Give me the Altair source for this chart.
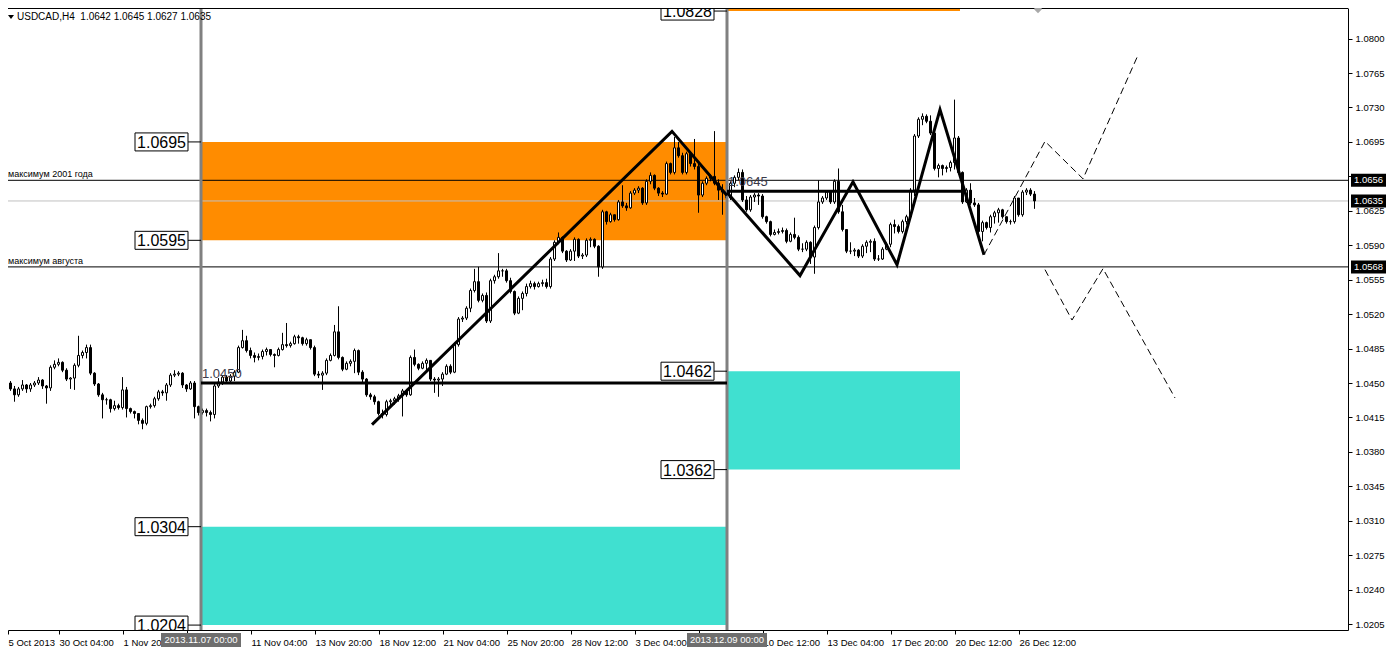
import altair as alt
import pandas as pd

# ---------------- data (prices as offsets: value v -> 1 + v/10000) ----------------
FIRST_OPEN = 443
CLOSES = [
    453, 450, 444, 438, 444, 448, 444, 448, 450, 453,
    447, 445, 466, 469, 471, 463, 454, 455, 468, 478,
    481, 486, 460, 449, 438, 433, 433, 424, 427, 425,
    443, 424, 421, 419, 412, 409, 426, 427, 434, 441,
    440, 448, 458, 459, 460, 448, 444, 450, 426, 420,
    422, 420, 418, 447, 451, 456, 452, 457, 461, 486,
    493, 483, 478, 476, 477, 482, 484, 479, 478, 484,
    489, 488, 490, 497, 496, 490, 494, 486, 459, 458,
    460, 473, 478, 502, 476, 464, 470, 472, 483, 461,
    454, 438, 436, 431, 419, 418, 431, 432, 434, 437,
    442, 438, 476, 469, 465, 470, 473, 454, 453, 454,
    459, 467, 461, 489, 515, 516, 526, 544, 553, 534,
    539, 513, 554, 558, 564, 564, 554, 543, 521, 536,
    541, 548, 551, 548, 551, 552, 548, 576, 593, 598,
    584, 575, 584, 596, 579, 580, 595, 596, 589, 568,
    624, 614, 621, 616, 634, 630, 628, 643, 646, 648,
    633, 655, 661, 648, 643, 642, 673, 664, 689, 681,
    664, 683, 673, 670, 641, 653, 658, 660, 653, 646,
    644, 638, 653, 659, 664, 636, 626, 639, 641, 640,
    619, 614, 601, 603, 604, 605, 594, 601, 598, 586,
    586, 593, 578, 608, 634, 638, 644, 634, 655, 624,
    606, 584, 584, 585, 579, 589, 593, 594, 576, 576,
    586, 591, 611, 609, 604, 614, 619, 646, 701, 718,
    721, 716, 704, 668, 671, 668, 669, 674, 699, 664,
    634, 646, 633, 631, 604, 613, 608, 619, 623, 626,
    619, 614, 614, 638, 621, 644, 646, 642, 635,
]
HIGHS = [
    461, 454, 452, 447, 446, 453, 449, 450, 452, 456,
    454, 448, 468, 473, 475, 472, 465, 456, 470, 498,
    483, 489, 489, 461, 450, 440, 435, 434, 432, 429,
    456, 446, 425, 422, 419, 414, 427, 429, 436, 443,
    443, 450, 460, 463, 462, 461, 449, 452, 452, 427,
    424, 424, 422, 449, 455, 458, 458, 459, 463, 488,
    504, 498, 486, 481, 480, 484, 486, 483, 480, 486,
    501, 511, 492, 499, 499, 497, 496, 494, 488, 462,
    462, 475, 480, 509, 528, 477, 472, 474, 485, 484,
    463, 455, 440, 438, 432, 423, 433, 434, 436, 439,
    444, 444, 478, 484, 470, 472, 475, 464, 456, 456,
    461, 469, 469, 491, 517, 518, 528, 546, 566, 568,
    541, 542, 556, 560, 582, 566, 566, 557, 544, 538,
    543, 551, 554, 553, 553, 555, 556, 578, 595, 603,
    599, 585, 586, 598, 597, 582, 597, 598, 597, 590,
    626, 625, 623, 621, 636, 651, 633, 645, 648, 650,
    649, 657, 664, 662, 649, 645, 675, 674, 700, 695,
    684, 685, 685, 698, 675, 655, 660, 662, 706, 657,
    652, 650, 655, 661, 668, 667, 640, 641, 643, 643,
    642, 620, 615, 606, 607, 608, 607, 603, 618, 600,
    592, 595, 594, 610, 656, 640, 646, 645, 657, 668,
    631, 606, 593, 587, 586, 591, 595, 596, 597, 580,
    588, 593, 613, 616, 611, 616, 621, 648, 703, 720,
    724, 723, 722, 706, 673, 672, 671, 676, 738, 701,
    665, 648, 653, 638, 633, 615, 614, 621, 625, 628,
    627, 617, 616, 640, 638, 646, 648, 648, 645,
]
LOWS = [
    441, 447, 442, 431, 436, 442, 440, 441, 446, 448,
    444, 429, 442, 464, 467, 461, 452, 444, 443, 466,
    475, 475, 458, 447, 436, 414, 428, 420, 422, 423,
    423, 415, 419, 414, 408, 403, 407, 424, 425, 432,
    437, 432, 446, 456, 457, 445, 441, 443, 414, 417,
    418, 416, 411, 414, 445, 448, 450, 450, 452, 460,
    485, 481, 475, 471, 473, 474, 478, 477, 466, 477,
    483, 486, 486, 489, 490, 488, 488, 484, 457, 455,
    443, 458, 472, 477, 474, 462, 463, 467, 460, 458,
    451, 436, 433, 428, 417, 414, 416, 427, 428, 431,
    416, 436, 437, 467, 463, 464, 461, 452, 440, 436,
    447, 458, 459, 460, 487, 512, 514, 522, 542, 532,
    532, 511, 511, 551, 556, 558, 552, 541, 519, 520,
    524, 538, 546, 545, 547, 548, 546, 546, 574, 591,
    582, 573, 574, 574, 577, 576, 578, 588, 587, 558,
    566, 611, 613, 614, 615, 628, 625, 627, 641, 643,
    631, 631, 652, 646, 640, 639, 641, 662, 662, 679,
    662, 662, 670, 667, 623, 639, 651, 655, 651, 636,
    621, 636, 636, 649, 656, 634, 624, 624, 634, 631,
    617, 612, 599, 600, 601, 602, 592, 593, 596, 584,
    583, 584, 571, 561, 606, 632, 636, 632, 632, 622,
    604, 582, 581, 579, 577, 577, 582, 583, 574, 574,
    575, 585, 588, 602, 602, 602, 611, 616, 640, 699,
    712, 714, 702, 666, 659, 661, 664, 665, 667, 662,
    632, 633, 631, 629, 602, 594, 606, 603, 612, 613,
    617, 612, 611, 612, 619, 619, 641, 640, 627,
]

# x axis (bar index) tick labels
TICK_BARS = [1.25, 14, 30, 46, 62, 78, 94, 110, 126, 142, 158, 174, 190, 206, 222, 238, 254]
TICK_LABELS = ["5 Oct 2013", "30 Oct 04:00", "1 Nov 20:00", "6 Nov 12:00", "11 Nov 04:00",
               "13 Nov 20:00", "18 Nov 12:00", "21 Nov 04:00", "25 Nov 20:00", "28 Nov 12:00",
               "3 Dec 04:00", "5 Dec 20:00", "10 Dec 12:00", "13 Dec 04:00", "17 Dec 20:00",
               "20 Dec 12:00", "26 Dec 12:00"]
Y_TICKS = [round(1.0205 + 0.0035 * k, 4) for k in range(18)]

# vertical separators (bar index) and their highlighted dates
VLINE_BARS = [49.5, 181]
VLINE_LABELS = ["2013.11.07 00:00", "2013.12.09 00:00"]

# zones: start bar, end bar, low price, high price, colour
ZONE_X0 = [49.5, 49.5, 181, 181]
ZONE_X1 = [181, 181, 239.25, 239.25]
ZONE_LO = [1.0595, 1.0204, 1.0828, 1.0362]
ZONE_HI = [1.0695, 1.0304, 1.0840, 1.0462]
ZONE_COL = ["#FF8C00", "#40E0D0", "#FF8C00", "#40E0D0"]

# boxed price labels on the separators
BOX_BAR = [49.5, 49.5, 49.5, 49.5, 181, 181, 181]
BOX_PRICE = [1.0695, 1.0595, 1.0304, 1.0204, 1.0828, 1.0462, 1.0362]

# full-width horizontal levels
LEVEL_PRICE = [1.0656, 1.0568]
LEVEL_TEXT = ["максимум 2001 года", "максимум августа"]
BID = 1.0635
RIGHT_MARKS = [1.0656, 1.0635, 1.0568]

# thick horizontal segments
SEG_X0 = [49.5, 181]
SEG_X1 = [181, 240.5]
SEG_P = [1.0450, 1.0645]
SEG_TEXT = ["1.0450", "1.0645"]

# zigzag patterns
ZZ_LEFT_B = [92.25, 167.25, 181]
ZZ_LEFT_P = [1.04077, 1.07057, 1.06405]
ZZ_RIGHT_B = [181, 199.25, 212.5, 223.5, 234.25, 245.25]
ZZ_RIGHT_P = [1.06435, 1.05592, 1.06545, 1.05702, 1.07278, 1.05803]
DASH_UP_B = [245.25, 260.5, 270, 283.5]
DASH_UP_P = [1.05803, 1.06956, 1.06575, 1.07809]
DASH_DN_B = [260.5, 267.25, 275, 293]
DASH_DN_P = [1.05652, 1.05140, 1.05662, 1.04348]

TITLE = "USDCAD,H4\u00a0 1.0642 1.0645 1.0627 1.0635"

# ---------------- build tables ----------------
def px(v):
    return 1 + v / 10000.0

rows = []
prev = FIRST_OPEN
for i, (c, h, l) in enumerate(zip(CLOSES, HIGHS, LOWS)):
    o = prev
    rows.append(dict(
        c=i - 0.125, x0=i - 0.375, x1=i + 0.125,
        high=px(max(h, o, c)), low=px(min(l, o, c)),
        top=px(max(o, c)), bot=px(min(o, c)),
        fill="white" if c >= o else "black"))
    prev = c
candles = pd.DataFrame(rows)

X_MIN, X_MAX = 1.25, 336.25
Y_MIN, Y_MAX = 1.0199, 1.08311
XS = alt.Scale(domain=[X_MIN, X_MAX], nice=False, zero=False)
YS = alt.Scale(domain=[Y_MIN, Y_MAX], nice=False, zero=False)
FONT = "Liberation Sans"

label_expr = ""
for b, t in zip(TICK_BARS, TICK_LABELS):
    label_expr += f"datum.value == {b} ? '{t}' : "
label_expr += "''"

XAXIS = alt.Axis(values=TICK_BARS, labelExpr=label_expr, labelAlign="left", labelPadding=3,
                 tickSize=4, labelFont=FONT, labelFontSize=9.5, labelColor="black",
                 tickColor="black", domainColor="black", grid=False, title="",
                 labelFlush=False, labelOverlap=False)
YAXIS = alt.Axis(orient="right", values=Y_TICKS, format=".4f", tickSize=4, labelPadding=3,
                 labelFont=FONT, labelFontSize=9.5, labelColor="black", tickColor="black",
                 domainColor="black", grid=False, title="", labelOverlap=False, labelFlush=False)


def X(f):
    return alt.X(f, type="quantitative", scale=XS, axis=XAXIS)


def X2(f):
    return alt.X2(f)


def Y(f):
    return alt.Y(f, type="quantitative", scale=YS, axis=YAXIS)


zones = pd.DataFrame(dict(x0=ZONE_X0, x1=ZONE_X1, lo=ZONE_LO, hi=ZONE_HI, col=ZONE_COL))
zone_layer = alt.Chart(zones).mark_rect(clip=True).encode(
    x=X("x0:Q"), x2=X2("x1"), y=Y("lo:Q"), y2=alt.Y2("hi"),
    fill=alt.Fill("col:N", scale=None))

levels = pd.DataFrame(dict(p=LEVEL_PRICE, t=LEVEL_TEXT, xa=[X_MIN] * 2))
level_rules = alt.Chart(levels).mark_rule(color="black", strokeWidth=1).encode(y=Y("p:Q"))
level_text = alt.Chart(levels).mark_text(align="left", baseline="bottom", dy=-1, font=FONT,
                                         fontSize=9, color="black", clip=True).encode(
    x=X("xa:Q"), y=Y("p:Q"), text="t:N")

bid = pd.DataFrame(dict(p=[BID]))
bid_rule = alt.Chart(bid).mark_rule(color="#C0C0C0", strokeWidth=1).encode(y=Y("p:Q"))

top = pd.DataFrame(dict(p=[Y_MAX]))
top_rule = alt.Chart(top).mark_rule(color="black", strokeWidth=2).encode(y=Y("p:Q"))

wicks = alt.Chart(candles).mark_rule(color="black", strokeWidth=1, clip=True).encode(
    x=X("c:Q"), y=Y("low:Q"), y2=alt.Y2("high"))
bodies = alt.Chart(candles).mark_rect(stroke="black", strokeWidth=1, clip=True).encode(
    x=X("x0:Q"), x2=X2("x1"), y=Y("bot:Q"), y2=alt.Y2("top"),
    fill=alt.Fill("fill:N", scale=None))

vl = pd.DataFrame(dict(b=VLINE_BARS, t=VLINE_LABELS, p=[Y_MIN] * 2))
vlines = alt.Chart(vl).mark_rule(color="#808080", strokeWidth=3).encode(x=X("b:Q"))

segs = pd.DataFrame(dict(x0=SEG_X0, x1=SEG_X1, p=SEG_P, t=SEG_TEXT))
seg_rules = alt.Chart(segs).mark_rule(color="black", strokeWidth=3).encode(
    x=X("x0:Q"), x2=X2("x1"), y=Y("p:Q"))
seg_text = alt.Chart(segs).mark_text(align="left", baseline="bottom", dx=1, dy=-2, font=FONT,
                                     fontSize=13, color="#3a3a4a").encode(
    x=X("x0:Q"), y=Y("p:Q"), text="t:N")

zz_rows = []
for g, (bs, ps) in enumerate([(ZZ_LEFT_B, ZZ_LEFT_P), (ZZ_RIGHT_B, ZZ_RIGHT_P)]):
    for k, (b, p) in enumerate(zip(bs, ps)):
        zz_rows.append(dict(g=g, k=k, b=b, p=p))
zz = pd.DataFrame(zz_rows)
zz_layer = alt.Chart(zz).mark_line(color="black", strokeWidth=3, strokeJoin="miter",
                                   clip=True).encode(
    x=X("b:Q"), y=Y("p:Q"), detail="g:N", order="k:Q")

dash_rows = []
for g, (bs, ps) in enumerate([(DASH_UP_B, DASH_UP_P), (DASH_DN_B, DASH_DN_P)]):
    for k, (b, p) in enumerate(zip(bs, ps)):
        dash_rows.append(dict(g=g, k=k, b=b, p=p))
dash = pd.DataFrame(dash_rows)
dash_layer = alt.Chart(dash).mark_line(color="black", strokeWidth=1, strokeDash=[7, 4],
                                       clip=True).encode(
    x=X("b:Q"), y=Y("p:Q"), detail="g:N", order="k:Q")

# boxed price labels (box drawn as a custom symbol to the left of the anchor)
LEFT_BOX = "M -0.26 0 L 0 0 M -1.32 -0.18 L -0.26 -0.18 L -0.26 0.18 L -1.32 0.18 Z"
boxes = pd.DataFrame(dict(b=BOX_BAR, p=BOX_PRICE, t=[f"{v:.4f}" for v in BOX_PRICE]))
box_sym = alt.Chart(boxes).mark_point(shape=LEFT_BOX, size=10000, filled=True, fill="white",
                                      stroke="black", strokeWidth=1, opacity=1,
                                      clip=True).encode(x=X("b:Q"), y=Y("p:Q"))
box_txt = alt.Chart(boxes).mark_text(align="center", baseline="middle", dx=-39.5, dy=1,
                                     font=FONT, fontSize=16, color="black",
                                     clip=True).encode(x=X("b:Q"), y=Y("p:Q"), text="t:N")

# black price marks on the right scale
RIGHT_BOX = "M 0.06 -0.13 L 0.76 -0.13 L 0.76 0.13 L 0.06 0.13 Z"
rm = pd.DataFrame(dict(b=[X_MAX] * 3, p=RIGHT_MARKS, t=[f"{v:.4f}" for v in RIGHT_MARKS]))
rm_sym = alt.Chart(rm).mark_point(shape=RIGHT_BOX, size=10000, filled=True, fill="black",
                                  strokeWidth=0, opacity=1).encode(x=X("b:Q"), y=Y("p:Q"))
rm_txt = alt.Chart(rm).mark_text(align="center", baseline="middle", dx=20.5, font=FONT,
                                 fontSize=9.5, color="white").encode(
    x=X("b:Q"), y=Y("p:Q"), text="t:N")

# highlighted dates on the time scale
DATE_BOX = "M -0.8 0.06 L 0.8 0.06 L 0.8 0.34 L -0.8 0.34 Z"
db_sym = alt.Chart(vl).mark_point(shape=DATE_BOX, size=10000, filled=True, fill="#6e6e6e",
                                  strokeWidth=0, opacity=1).encode(x=X("b:Q"), y=Y("p:Q"))
db_txt = alt.Chart(vl).mark_text(align="center", baseline="middle", dy=10, font=FONT,
                                 fontSize=9.5, color="white").encode(
    x=X("b:Q"), y=Y("p:Q"), text="t:N")

# title in the corner
tt = pd.DataFrame(dict(b=[X_MIN], p=[Y_MAX], t=[TITLE]))
TRI = "M 0.0 0.14 L 0.12 0.14 L 0.06 0.22 Z"
title_tri = alt.Chart(tt).mark_point(shape=TRI, size=10000, filled=True, fill="black",
                                     strokeWidth=0, opacity=1).encode(x=X("b:Q"), y=Y("p:Q"))
title_txt = alt.Chart(tt).mark_text(align="left", baseline="middle", dx=9, dy=9, font=FONT,
                                    fontSize=10, color="black").encode(
    x=X("b:Q"), y=Y("p:Q"), text="t:N")

# small marker at the top
mk = pd.DataFrame(dict(b=[258.75], p=[1.0830]))
marker = alt.Chart(mk).mark_point(shape="diamond", size=70, filled=True, fill="#a8a8a8",
                                  strokeWidth=0, opacity=1, clip=True).encode(
    x=X("b:Q"), y=Y("p:Q"))

chart = alt.layer(
    zone_layer, bid_rule, level_rules, wicks, bodies, level_text, vlines, seg_rules,
    zz_layer, dash_layer, seg_text, box_sym, box_txt, rm_sym, rm_txt, db_sym, db_txt,
    top_rule, title_tri, title_txt, marker,
).properties(
    width=1340, height=622,
    padding={"left": 0, "top": 0, "right": 38, "bottom": 20},
    autosize=alt.AutoSizeParams(type="none"),
    background="white",
).configure_view(strokeWidth=0)

chart.save("out.html", embed_options={"renderer": "svg", "actions": False})
